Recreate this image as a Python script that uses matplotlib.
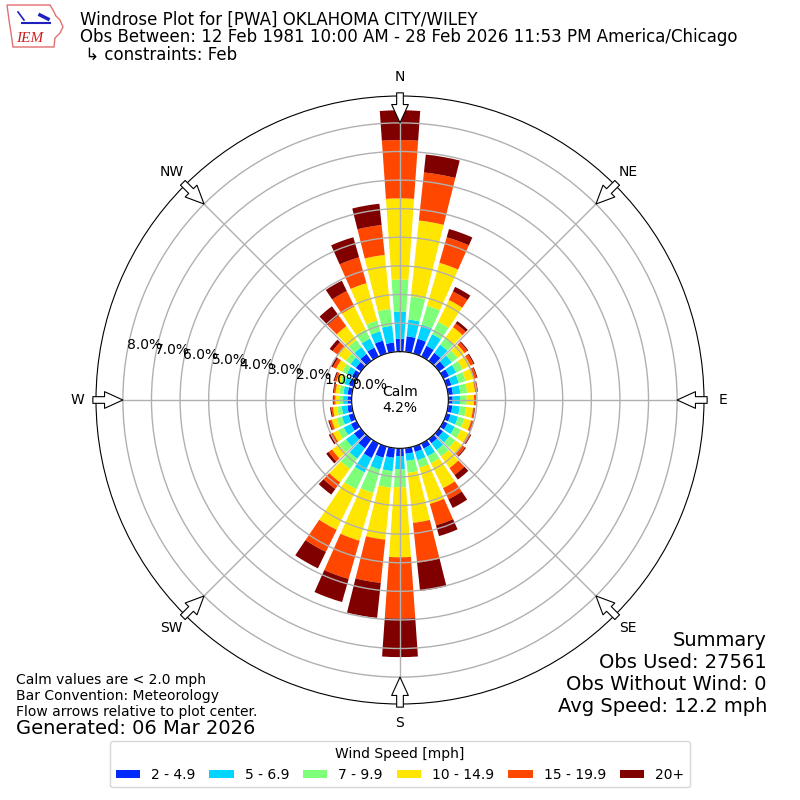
import numpy as np
import matplotlib
matplotlib.use("Agg")
import matplotlib.pyplot as plt
from matplotlib.patches import Patch, Polygon
from matplotlib.lines import Line2D

# ---------------- data ----------------
directions = list(range(0, 360, 10))
speed_bins = ["2 - 4.9", "5 - 6.9", "7 - 9.9", "10 - 14.9", "15 - 19.9", "20+"]

# percent frequency per direction for each speed bin
bin_2_5 = [0.45, 0.55, 0.54, 0.42, 0.35, 0.25, 0.22, 0.18, 0.17, 0.15, 0.15, 0.15,
           0.16, 0.17, 0.18, 0.20, 0.20, 0.20, 0.27, 0.34, 0.41, 0.57, 0.40, 0.30,
           0.22, 0.18, 0.16, 0.15, 0.15, 0.16, 0.18, 0.22, 0.30, 0.35, 0.47, 0.33]
bin_5_7 = [0.95, 0.59, 0.51, 0.45, 0.35, 0.30, 0.28, 0.27, 0.26, 0.26, 0.26, 0.27,
           0.28, 0.28, 0.30, 0.30, 0.30, 0.25, 0.46, 0.47, 0.43, 0.56, 0.45, 0.35,
           0.28, 0.24, 0.20, 0.15, 0.15, 0.17, 0.20, 0.23, 0.30, 0.35, 0.34, 0.59]
bin_7_10 = [1.12, 0.81, 0.69, 0.48, 0.30, 0.25, 0.25, 0.25, 0.24, 0.23, 0.22, 0.23,
            0.24, 0.25, 0.27, 0.27, 0.27, 0.42, 0.63, 0.58, 0.85, 0.65, 0.44, 0.30,
            0.22, 0.20, 0.16, 0.14, 0.14, 0.15, 0.18, 0.20, 0.30, 0.35, 0.39, 0.59]
bin_10_15 = [2.84, 2.67, 1.56, 0.85, 0.46, 0.30, 0.30, 0.30, 0.28, 0.26, 0.25, 0.25,
             0.29, 0.30, 0.50, 0.97, 1.32, 1.76, 2.45, 1.83, 1.74, 1.58, 0.58, 0.30,
             0.20, 0.18, 0.15, 0.13, 0.14, 0.14, 0.24, 0.35, 0.60, 0.90, 1.36, 1.90]
bin_15_20 = [2.04, 1.69, 0.93, 0.33, 0.16, 0.12, 0.12, 0.10, 0.08, 0.04, 0.05, 0.06,
             0.08, 0.12, 0.30, 0.43, 0.78, 1.40, 2.14, 1.52, 1.39, 0.86, 0.29, 0.15,
             0.10, 0.08, 0.06, 0.06, 0.06, 0.07, 0.12, 0.22, 0.45, 0.60, 0.94, 1.05]
bin_20p = [1.04, 0.63, 0.30, 0.18, 0.10, 0.04, 0.04, 0.03, 0.02, 0.02, 0.02, 0.02,
           0.03, 0.04, 0.20, 0.34, 0.39, 0.99, 1.35, 1.23, 0.84, 0.64, 0.24, 0.10,
           0.06, 0.04, 0.04, 0.03, 0.03, 0.04, 0.08, 0.13, 0.41, 0.40, 0.73, 0.75]

ring_values = [0, 1, 2, 3, 4, 5, 6, 7, 8]
compass_angles = [0, 45, 90, 135, 180, 225, 270, 315]
compass_labels = ["N", "NE", "E", "SE", "S", "SW", "W", "NW"]
calm_percent = 4.2

title_lines = [
    "Windrose Plot for [PWA] OKLAHOMA CITY/WILEY",
    "Obs Between: 12 Feb 1981 10:00 AM - 28 Feb 2026 11:53 PM America/Chicago",
    " \u21b3 constraints: Feb",
]
summary_lines = ["Summary", "Obs Used: 27561", "Obs Without Wind: 0",
                 "Avg Speed: 12.2 mph"]
note_lines = ["Calm values are < 2.0 mph", "Bar Convention: Meteorology",
              "Flow arrows relative to plot center."]
generated = "Generated: 06 Mar 2026"

# ---------------- plot ----------------
fig = plt.figure(figsize=(8, 8), dpi=100)
ax = fig.add_axes([0.12, 0.12, 0.76, 0.76], projection="polar")
ax.set_theta_zero_location("N")
ax.set_theta_direction(-1)

series = [bin_2_5, bin_5_7, bin_7_10, bin_10_15, bin_15_20, bin_20p]
cmap = plt.get_cmap("jet")
colors = cmap(np.arange(1, len(series) + 1) / len(series))

theta = np.deg2rad(directions)
width = np.deg2rad(10) * 0.8
base = np.zeros(len(directions))
for vals, col in zip(series, colors):
    vals = np.asarray(vals)
    ax.bar(theta, vals, width=width, bottom=base, color=col,
           edgecolor="none", zorder=1, align="center")
    base = base + vals

ax.set_ylim(0, 8.94)
ax.set_rorigin(-1.69)
ax.set_yticks(ring_values)
ax.set_yticklabels([])
ax.yaxis.grid(True, color="#b0b0b0", lw=1.0)
ax.xaxis.grid(True, color="#b0b0b0", lw=1.0)
ax.set_xticks(np.deg2rad(compass_angles))
ax.set_xticklabels(compass_labels, fontsize=10)
ax.tick_params(axis="x", pad=3)

for r in ring_values:
    ax.text(np.deg2rad(280), r, f"{r:.1f}%", ha="left", va="bottom",
            fontsize=10, zorder=5)

ax.text(0.5, 0.5, f"Calm\n{calm_percent:.1f}%", transform=ax.transAxes,
        ha="center", va="center", fontsize=10, zorder=5)

for a in compass_angles:
    th = np.deg2rad(a)
    ax.annotate("", xy=(th, 8.0), xytext=(th, 9.05),
                arrowprops=dict(arrowstyle="simple,head_length=1.1,head_width=1.0,tail_width=0.4",
                                fc="white", ec="black", lw=0.8,
                                shrinkA=0, shrinkB=0, mutation_scale=12),
                annotation_clip=False, zorder=6)

# Titles
for i, line in enumerate(title_lines):
    fig.text(80 / 800, 1 - (20 + 17.5 * i) / 800, line, fontsize=12, va="center",
             ha="left")

# Summary
for i, line in enumerate(summary_lines):
    fig.text(767 / 800, 1 - (640 + 22 * i) / 800, line, fontsize=14, va="center",
             ha="right")

# Notes
for i, line in enumerate(note_lines):
    fig.text(16 / 800, 1 - (680 + 16 * i) / 800, line, fontsize=10, va="center",
             ha="left")
fig.text(16 / 800, 1 - 729 / 800, generated, fontsize=14, va="center", ha="left")

# Legend
handles = [Patch(facecolor=c, edgecolor="none", label=l) for c, l in zip(colors, speed_bins)]
leg = fig.legend(handles=handles, loc="lower center", bbox_to_anchor=(0.5, 0.007),
                 ncol=6, fontsize=10, title="Wind Speed [mph]", title_fontsize=10,
                 handlelength=1.75, handleheight=0.6, columnspacing=1.0,
                 frameon=True, fancybox=True)

# Simple IEM logo
px = lambda x, y: (x / 800, 1 - y / 800)
iowa = [(7, 5), (50, 5), (53, 10), (56, 16), (60, 20), (63, 27), (60, 33), (55, 38),
        (54, 47), (13, 47), (11, 33), (9, 20)]
fig.patches.append(Polygon([px(x, y) for x, y in iowa], closed=True, fill=False,
                           ec="#e07070", lw=1.0, transform=fig.transFigure))
fig.lines.append(Line2D([px(22, 0)[0], px(50, 0)[0]], [px(0, 23)[1], px(0, 23)[1]],
                        color="#2020c0", lw=1.5, transform=fig.transFigure))
fig.lines.append(Line2D([px(18, 0)[0], px(24, 0)[0]], [px(0, 12)[1], px(0, 20)[1]],
                        color="#2020c0", lw=1.2, transform=fig.transFigure))
fig.lines.append(Line2D([px(40, 0)[0], px(48, 0)[0]], [px(0, 15)[1], px(0, 19)[1]],
                        color="#2020c0", lw=2.5, transform=fig.transFigure))
fig.text(30 / 800, 1 - 39 / 800, "IEM", fontsize=11, color="#d02020",
         family="Liberation Serif", style="italic", ha="center", va="center")

fig.savefig("out.png", dpi=100)
